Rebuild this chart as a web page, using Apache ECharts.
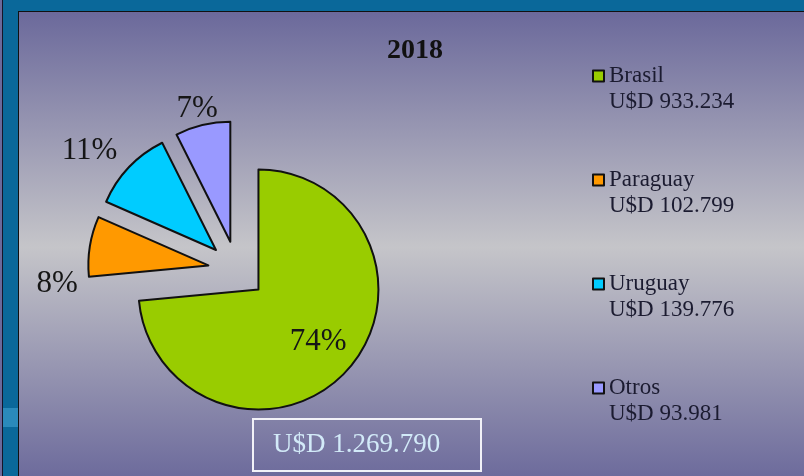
<!DOCTYPE html>
<html>
<head>
<meta charset="utf-8">
<script src="https://cdn.jsdelivr.net/npm/echarts@6/dist/echarts.min.js"></script>
<style>
  html, body { margin: 0; padding: 0; }
  body { width: 804px; height: 476px; overflow: hidden; position: relative; background: #0a689a; }
  .strip { position: absolute; left: 0; top: 0; width: 2px; height: 476px; background: #6b699b; border-right: 1px solid #15152a; }
  .band { position: absolute; left: 3px; top: 408px; width: 15px; height: 19px; background: #2a8abb; }
  .panel { position: absolute; left: 18px; top: 11px; width: 790px; height: 470px;
           border-top: 1px solid #111; border-left: 1px solid #111;
           background: linear-gradient(to bottom, #6b699b 0%, #c5c5c9 50%, #6b699b 100%); }
  #chart { position: absolute; left: 0; top: 0; width: 804px; height: 476px; }
</style>
</head>
<body>
<div class="strip"></div>
<div class="band"></div>
<div class="panel"></div>
<div id="chart"></div>
<script>
// Exports by destination, 2018 (U$D)
const title = '2018';
const categories = ['Brasil', 'Paraguay', 'Uruguay', 'Otros'];
const values = [933234, 102799, 139776, 93981];
const currency = 'U$D';

// Slice colours and label placement tweaks (styling only)
const sliceColors = ['#99cc00', '#ff9900', '#00ccff', '#9999ff'];
const labelLineLen = [20, 30, 42, 20];
const labelNudge = [[13, 10], [2, 42], [-4, 12], [4, 3]];

function fmtThousands(n) {
  return String(n).replace(/\B(?=(\d{3})+(?!\d))/g, '.');
}
const total = values.reduce((a, b) => a + b, 0);
const valueByName = {};
categories.forEach((c, i) => { valueByName[c] = values[i]; });

const serif = '"Liberation Serif", "DejaVu Serif", serif';

const chart = echarts.init(document.getElementById('chart'), null, { renderer: 'canvas' });

chart.setOption({
  backgroundColor: 'transparent',
  animation: false,
  title: {
    text: title,
    left: 387,
    top: 37,
    padding: 0,
    textStyle: { fontFamily: serif, fontWeight: 'bold', fontSize: 28, color: '#111' }
  },
  legend: {
    orient: 'vertical',
    left: 592,
    top: 37,
    padding: 0,
    itemGap: 26,
    itemWidth: 11,
    itemHeight: 11,
    icon: 'rect',
    selectedMode: false,
    itemStyle: { borderColor: '#111', borderWidth: 2 },
    // a blank first line keeps the marker level with the name line
    formatter: name => '\u00a0\n' + name + '\n' + currency + ' ' + fmtThousands(valueByName[name]),
    textStyle: {
      fontFamily: serif, fontSize: 23, color: '#1b1b30',
      lineHeight: 26
    },
    data: categories
  },
  series: [{
    type: 'pie',
    center: [237, 270],
    radius: 120,
    startAngle: 90,
    clockwise: true,
    selectedMode: 'multiple',
    selectedOffset: 29,
    avoidLabelOverlap: false,
    percentPrecision: 0,
    itemStyle: { borderColor: '#111', borderWidth: 2 },
    select: { itemStyle: { borderColor: '#111', borderWidth: 2 } },
    emphasis: { disabled: true },
    label: {
      show: true,
      position: 'outside',
      formatter: '{d}%',
      fontFamily: serif,
      fontSize: 31,
      color: '#161616'
    },
    labelLine: { show: false, length: 20, length2: 0 },
    labelLayout: p => ({
      align: 'center',
      dx: labelNudge[p.dataIndex][0],
      dy: labelNudge[p.dataIndex][1]
    }),
    data: categories.map((name, i) => ({
      name: name,
      value: values[i],
      selected: true,
      itemStyle: { color: sliceColors[i] },
      label: i === 0 ? { position: 'inside' } : {},
      labelLine: { show: false, length: labelLineLen[i], length2: 0 }
    }))
  }],
  graphic: [{
    type: 'group',
    left: 252,
    top: 418,
    z: 100,
    children: [{
      type: 'rect',
      shape: { x: 0, y: 0, width: 228, height: 52 },
      style: { fill: 'transparent', stroke: '#f2f2f8', lineWidth: 2 }
    }, {
      type: 'text',
      x: 20,
      y: 26,
      style: {
        text: currency + ' ' + fmtThousands(total),
        fill: '#d2eaf8',
        font: '27px ' + serif,
        verticalAlign: 'middle'
      }
    }]
  }]
});
</script>
</body>
</html>
